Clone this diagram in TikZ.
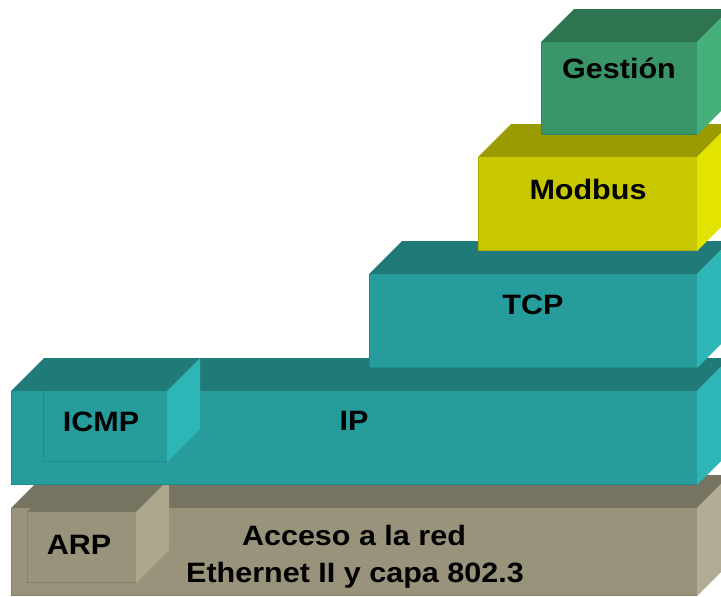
\documentclass[tikz,border=0pt]{standalone}
\usepackage{fontspec}
\newfontfamily\lbl[FakeStretch=1.09]{Liberation Sans}

% face colours: front / top / side
\definecolor{tealF}{HTML}{279C9C}
\definecolor{tealT}{HTML}{1F7A78}
\definecolor{tealS}{HTML}{2EB6B6}
\definecolor{greenF}{HTML}{3A9569}
\definecolor{greenT}{HTML}{2E7451}
\definecolor{greenS}{HTML}{46B07B}
\definecolor{yellF}{HTML}{C8C800}
\definecolor{yellT}{HTML}{9B9A00}
\definecolor{yellS}{HTML}{E3E300}
\definecolor{khakiF}{HTML}{99937B}
\definecolor{khakiT}{HTML}{777361}
\definecolor{khakiS}{HTML}{B1AC93}
\definecolor{arpS}{HTML}{ADA88D}

% a slab seen from the front, depth going up and to the right
% #1,#2 = front top-left, #3,#4 = front bottom-right, #5 front, #6 top, #7 side
\newcommand{\slab}[7]{%
  \fill[#6] (#1,#2) -- (#1+33,#2-33) -- (#3+33,#2-33) -- (#3,#2) -- cycle;
  \fill[#7] (#3,#2) -- (#3+33,#2-33) -- (#3+33,#4-33) -- (#3,#4) -- cycle;
  \fill[#5] (#1,#2) rectangle (#3,#4);
  \draw[#5!88!black, line width=0.8pt] (#1+0.4,#2) -- (#1+0.4,#4-0.4) -- (#3,#4-0.4);
}

\tikzset{
  layertext/.style={anchor=base, inner sep=0pt, text=black,
    font=\lbl\bfseries\fontsize{28}{37}\selectfont},
}

\begin{document}
\begin{tikzpicture}[x=1pt, y=-1pt]
  \useasboundingbox (0,0) rectangle (721,597);
  \fill[white] (0,0) rectangle (721,597);
  \clip (0,0) rectangle (721,597);

  % network access layer with ARP
  \slab{11}{508}{697}{596}{khakiF}{khakiT}{khakiS}
  \slab{27}{512}{136}{583}{khakiF}{khakiT}{arpS}
  % internet layer with ICMP
  \slab{11}{391}{697}{485}{tealF}{tealT}{tealS}
  \slab{43}{391}{167}{462}{tealF}{tealT}{tealS}
  % transport
  \slab{369}{274}{697}{368}{tealF}{tealT}{tealS}
  % application
  \slab{478}{157}{697}{251}{yellF}{yellT}{yellS}
  \slab{541}{42}{697}{135}{greenF}{greenT}{greenS}

  \node[layertext] (gestion) at (619,78)  {Gestión};
  \node[layertext] (modbus)  at (588,199) {Modbus};
  \node[layertext] (tcp)     at (533,314) {TCP};
  \node[layertext] (ip)      at (354,430) {IP};
  \node[layertext] (icmp)    at (101,431) {ICMP};
  \node[layertext] (arp)     at (79,554)  {ARP};
  \node[layertext] (acceso)  at (354,545) {Acceso a la red};
  \node[layertext] (ether)   at (355,582) {Ethernet II y capa 802.3};
\end{tikzpicture}
\end{document}
